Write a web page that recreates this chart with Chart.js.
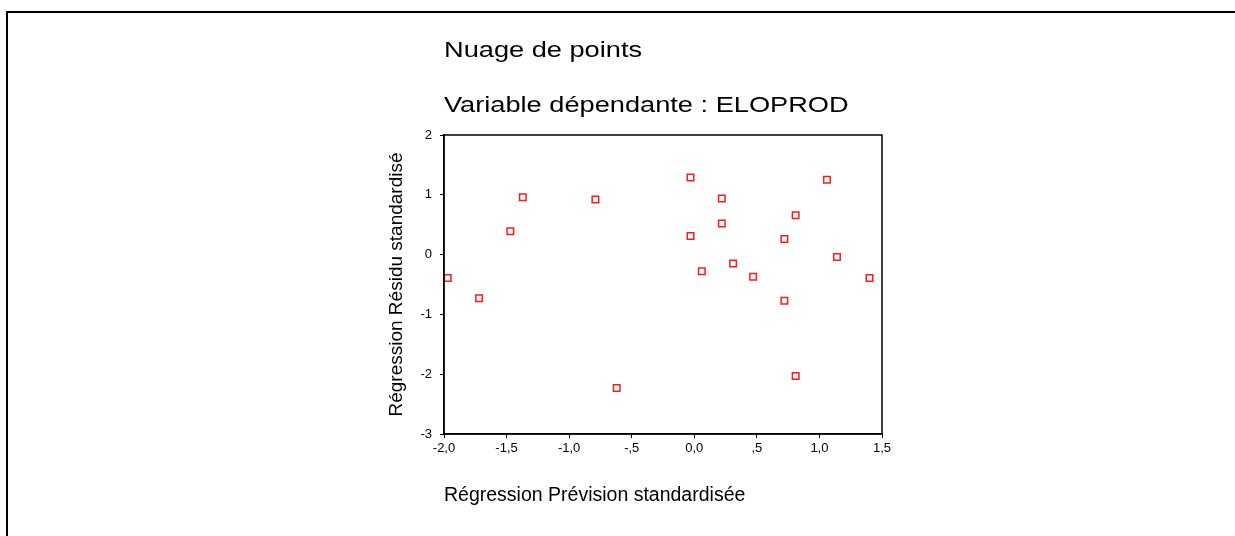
<!DOCTYPE html>
<html>
<head>
<meta charset="utf-8">
<script src="https://cdn.jsdelivr.net/npm/chart.js@4"></script>
<style>
html, body { margin: 0; padding: 0; background: #fff; overflow: hidden; }
#frame { position: absolute; left: 6px; top: 11px; width: 1300px; height: 600px; border-top: 2px solid #000; border-left: 2px solid #000; }
#wrap { position: absolute; left: 0; top: 0; width: 1235px; height: 536px; }
</style>
</head>
<body>
<div id="frame"></div>
<div id="wrap"><canvas id="scatter" width="1235" height="536"></canvas></div>
<script>
// valeurs
const xValues = [-1.97, -1.72, -1.47, -1.37, -0.79, -0.62, -0.03, -0.03, 0.06, 0.22, 0.22, 0.31, 0.47, 0.72, 0.72, 0.81, 0.81, 1.06, 1.14, 1.40]
const yValues = [-0.39, -0.73, 0.39, 0.96, 0.92, -2.23, 1.29, 0.31, -0.28, 0.94, 0.52, -0.15, -0.37, 0.26, -0.77, 0.66, -2.03, 1.25, -0.04, -0.39]

const xTickValues = [-2, -1.5, -1, -0.5, 0, 0.5, 1, 1.5]
const xTickLabels = ["-2,0", "-1,5", "-1,0", "-,5", "0,0", ",5", "1,0", "1,5"]
const yTickValues = [-3, -2, -1, 0, 1, 2]
const yTickLabels = ["-3", "-2", "-1", "0", "1", "2"]

const titleLines = ["Nuage de points", "Variable dépendante : ELOPROD"]
const xTitle = "Régression Prévision standardisée"
const yTitle = "Régression Résidu standardisé"

let points = []
xValues.forEach(function(x, i){
  points.push({ x: x, y: yValues[i] })
})

const fontFamily = '"Liberation Sans", Arial, sans-serif'
Chart.defaults.font.family = fontFamily
Chart.defaults.color = '#000'

// cadre autour de la zone du graphe
const boxPlugin = {
  id: 'boxFrame',
  afterDraw(chart) {
    const a = chart.chartArea
    const ctx = chart.ctx
    ctx.save()
    ctx.strokeStyle = '#000'
    ctx.lineWidth = 1.5
    ctx.strokeRect(a.left, a.top, a.right - a.left, a.bottom - a.top)
    ctx.restore()
  }
}

// titres (un peu étirés en largeur comme dans l'original)
const titlePlugin = {
  id: 'spssTitles',
  afterDraw(chart) {
    const ctx = chart.ctx
    const baselines = [57, 111.5]
    ctx.save()
    ctx.fillStyle = '#000'
    ctx.font = '22px ' + fontFamily
    ctx.textBaseline = 'alphabetic'
    titleLines.forEach(function(line, i){
      ctx.save()
      ctx.translate(chart.chartArea.left, baselines[i])
      ctx.scale(1.236, 1)
      ctx.fillText(line, 0, 0)
      ctx.restore()
    })
    ctx.restore()
  }
}

new Chart(document.getElementById("scatter"), {
  type: 'scatter',
  data: {
    datasets: [{
      label: 'Résidus',
      data: points,
      pointStyle: 'rect',
      pointRadius: 4.6,
      pointBorderWidth: 1.5,
      borderColor: '#ff1a1a',
      backgroundColor: '#ffffff'
    }]
  },
  options: {
    responsive: false,
    devicePixelRatio: 1,
    animation: false,
    layout: { padding: { left: 385.6, right: 353, top: 135, bottom: 28.6 } },
    plugins: {
      legend: { display: false },
      tooltip: { enabled: false },
      title: { display: false }
    },
    scales: {
      x: {
        type: 'linear',
        min: -2,
        max: 1.5,
        afterFit: function(scale){ scale.height = 73.4 },
        afterBuildTicks: function(scale){
          scale.ticks = xTickValues.map(function(v){ return { value: v } })
        },
        ticks: {
          padding: 3,
          font: { size: 13 },
          maxRotation: 0,
          callback: function(value){
            let i = xTickValues.indexOf(value)
            return i >= 0 ? xTickLabels[i] : ''
          }
        },
        grid: { drawOnChartArea: false, tickLength: 4, color: '#000', tickWidth: 1 },
        border: { display: true, color: '#000', width: 1.5 },
        title: { display: true, text: xTitle, align: 'start', padding: 0, font: { size: 19.5 } }
      },
      y: {
        type: 'linear',
        min: -3,
        max: 2,
        afterFit: function(scale){ scale.width = 58.4 },
        afterBuildTicks: function(scale){
          scale.ticks = yTickValues.map(function(v){ return { value: v } })
        },
        ticks: {
          padding: 8,
          font: { size: 13 },
          callback: function(value){
            let i = yTickValues.indexOf(value)
            return i >= 0 ? yTickLabels[i] : ''
          }
        },
        grid: { drawOnChartArea: false, tickLength: 4, color: '#000', tickWidth: 1 },
        border: { display: true, color: '#000', width: 1.5 },
        title: { display: true, text: yTitle, padding: 0, font: { size: 19 } }
      }
    }
  },
  plugins: [boxPlugin, titlePlugin]
});
</script>
</body>
</html>
